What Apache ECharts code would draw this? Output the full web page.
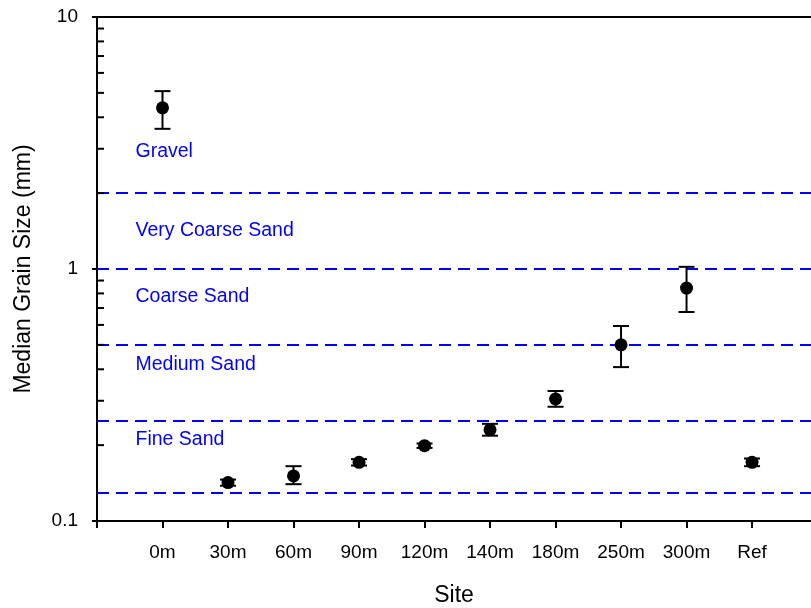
<!DOCTYPE html>
<html><head><meta charset="utf-8">
<script src="https://cdn.jsdelivr.net/npm/echarts@6/dist/echarts.min.js"></script>
<style>html,body{margin:0;padding:0;background:#fff}#c{width:811px;height:608px}</style>
</head><body><div id="c"></div>
<script>
const sites = ['0m','30m','60m','90m','120m','140m','180m','250m','300m','Ref'];
const medians = [4.36, 0.142, 0.151, 0.171, 0.199, 0.230, 0.305, 0.50, 0.84, 0.171];
const upperErr = [5.08, 0.146, 0.165, 0.176, 0.203, 0.243, 0.328, 0.594, 1.02, 0.177];
const lowerErr = [3.60, 0.138, 0.140, 0.166, 0.195, 0.218, 0.284, 0.408, 0.675, 0.165];
const classBounds = [2, 1, 0.5, 0.25, 0.125];
const classNames = ['Gravel', 'Very Coarse Sand', 'Coarse Sand', 'Medium Sand', 'Fine Sand'];
const classLabelY = [2.91, 1.42, 0.774, 0.416, 0.2096];
const yMinorTicks = [0.2,0.3,0.4,0.5,0.6,0.7,0.8,0.9,2,3,4,5,6,7,8,9];

const FONT = "'Liberation Sans', Arial, sans-serif";
const xTickPositions = [0].concat(sites.map((s, i) => i + 1));

const chart = echarts.init(document.getElementById('c'), null, {renderer: 'canvas'});
chart.setOption({
  animation: false,
  backgroundColor: '#fff',
  grid: {left: 97, top: 17, right: 0, height: 504, containLabel: false, outerBoundsMode: 'none'},
  xAxis: [{
    type: 'value', min: 0, max: 10.9, interval: 1, position: 'bottom',
    name: 'Site', nameLocation: 'middle', nameGap: 63,
    nameTextStyle: {fontFamily: FONT, fontSize: 23, color: '#000'},
    axisLine: {lineStyle: {color: '#000', width: 2}},
    axisTick: {show: true, length: 7, lineStyle: {color: '#000', width: 2}, customValues: xTickPositions},
    axisLabel: {fontFamily: FONT, fontSize: 19, color: '#000', margin: 22,
      customValues: sites.map((s, i) => i + 1),
      formatter: v => (v >= 1 && v <= sites.length && Number.isInteger(v)) ? sites[v - 1] : ''},
    splitLine: {show: false}
  }, {
    type: 'value', min: 0, max: 10.9, position: 'top',
    axisLine: {show: true, lineStyle: {color: '#000', width: 2}},
    axisTick: {show: false}, axisLabel: {show: false}, splitLine: {show: false}
  }],
  yAxis: {
    type: 'log', logBase: 10, min: 0.1, max: 10, interval: 1,
    name: 'Median Grain Size (mm)', nameLocation: 'middle', nameGap: 62, nameRotate: 90,
    nameTextStyle: {fontFamily: FONT, fontSize: 23, color: '#000'},
    axisLine: {show: true, lineStyle: {color: '#000', width: 2}},
    axisTick: {show: true, length: 5, lineStyle: {color: '#000', width: 2}},
    axisLabel: {fontFamily: FONT, fontSize: 19, color: '#000', margin: 19,
      formatter: v => String(Number(v.toPrecision(3)))},
    splitLine: {show: false}, minorTick: {show: false}
  },
  series: [
    {
      type: 'custom', name: 'minorTicks', coordinateSystem: 'cartesian2d', clip: false,
      data: yMinorTicks.map(v => [0, v]), silent: true, z: 5,
      renderItem: (params, api) => {
        const p = api.coord([0, api.value(1)]);
        return {type: 'line', shape: {x1: p[0], y1: p[1], x2: p[0] + 7, y2: p[1]},
          style: {stroke: '#000', lineWidth: 2}};
      }
    },
    {
      type: 'custom', name: 'classLabels', coordinateSystem: 'cartesian2d', clip: false,
      data: classNames.map((n, i) => [1, classLabelY[i]]), silent: true, z: 4,
      renderItem: (params, api) => {
        const p = api.coord([1, api.value(1)]);
        return {type: 'text', x: p[0] - 27, y: p[1],
          style: {text: classNames[params.dataIndex], fill: '#0000ff', font: '19.5px ' + FONT,
            textAlign: 'left', textVerticalAlign: 'middle'}};
      }
    },
    {
      type: 'line', name: 'bounds', data: [], silent: true,
      markLine: {
        silent: true, symbol: 'none', label: {show: false},
        lineStyle: {color: '#0000ff', width: 2, type: [12, 7]},
        data: classBounds.map(v => ({yAxis: v}))
      }
    },
    {
      type: 'custom', name: 'errors', coordinateSystem: 'cartesian2d', z: 6,
      data: sites.map((s, i) => [i + 1, lowerErr[i], upperErr[i]]),
      renderItem: (params, api) => {
        const x = api.value(0);
        const lo = api.coord([x, api.value(1)]);
        const hi = api.coord([x, api.value(2)]);
        const hw = 8;
        const st = {stroke: '#000', lineWidth: 2};
        return {type: 'group', children: [
          {type: 'line', shape: {x1: lo[0], y1: lo[1], x2: hi[0], y2: hi[1]}, style: st},
          {type: 'line', shape: {x1: lo[0] - hw, y1: lo[1], x2: lo[0] + hw, y2: lo[1]}, style: st},
          {type: 'line', shape: {x1: hi[0] - hw, y1: hi[1], x2: hi[0] + hw, y2: hi[1]}, style: st}
        ]};
      }
    },
    {
      type: 'scatter', name: 'median', z: 7,
      data: sites.map((s, i) => [i + 1, medians[i]]),
      symbol: 'circle', symbolSize: 13,
      itemStyle: {color: '#000', opacity: 1}
    }
  ]
});
</script></body></html>
